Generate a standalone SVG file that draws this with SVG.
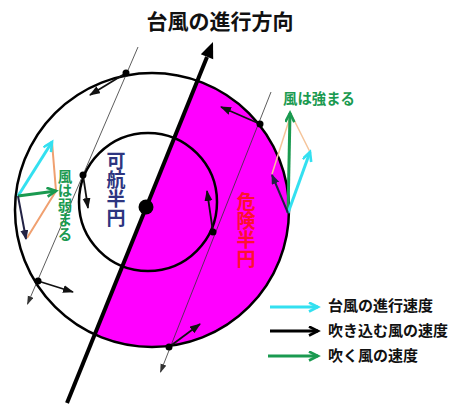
<svg xmlns="http://www.w3.org/2000/svg" width="458" height="406" viewBox="0 0 458 406">
<style>
.cjk{font-family:"Noto Sans CJK JP","Noto Sans CJK SC",sans-serif}
.vert{writing-mode:vertical-rl}
.circ{fill:none;stroke:#000;stroke-width:2.5}
.thin{stroke:#333;stroke-width:0.8;fill:none}
.wind{stroke:#111;stroke-width:1.8;fill:none}
.dot{fill:#000}
.orange{stroke:#f0a070;stroke-width:2;fill:none}
</style>
<defs>
<marker id="mk" markerUnits="userSpaceOnUse" markerWidth="12" markerHeight="10" refX="10" refY="4" orient="auto"><path d="M0,0 L11,4 L0,8 Z" fill="#111"/></marker>
<marker id="mkt" markerUnits="userSpaceOnUse" markerWidth="10" markerHeight="8" refX="8" refY="3" orient="auto"><path d="M0,0 L9,3 L0,6 Z" fill="#333"/></marker>
<marker id="mkc" markerUnits="userSpaceOnUse" markerWidth="14" markerHeight="12" refX="10" refY="5" orient="auto"><path d="M1,0.5 L10,5 L1,9.5" fill="none" stroke="#33e0f0" stroke-width="2.6"/></marker>
<marker id="mkg" markerUnits="userSpaceOnUse" markerWidth="14" markerHeight="12" refX="10" refY="5" orient="auto"><path d="M1,0.5 L10,5 L1,9.5" fill="none" stroke="#1a9a50" stroke-width="2.6"/></marker>
<marker id="mkb" markerUnits="userSpaceOnUse" markerWidth="14" markerHeight="12" refX="10" refY="5" orient="auto"><path d="M1,0.5 L10,5 L1,9.5" fill="none" stroke="#000" stroke-width="2.6"/></marker>
<marker id="mkd" markerUnits="userSpaceOnUse" markerWidth="12" markerHeight="10" refX="9" refY="4" orient="auto"><path d="M0,0 L10,4 L0,8 Z" fill="#222244"/></marker>
</defs>
<rect width="458" height="406" fill="#fff"/>

<g id="title"><text class="cjk" x="220" y="29" font-size="21" font-weight="bold" text-anchor="middle" fill="#111">台風の進行方向</text></g>

<g id="dangerous-half"><path d="M198.4,81.1 A137,137 0 1 1 95,334.6 Z" fill="#ff00ff"/></g>
<g id="outer-circle"><circle class="circ" cx="152" cy="210" r="137"/></g>
<g id="inner-circle"><circle class="circ" cx="148" cy="202" r="69"/></g>

<g id="connectors">
<line class="thin" x1="138" y1="47" x2="27.5" y2="304" marker-end="url(#mkt)"/>
<line class="thin" x1="271" y1="92" x2="160.5" y2="372" marker-end="url(#mkt)"/>
<line x1="67" y1="403" x2="207" y2="57" stroke="#000" stroke-width="4"/>
<polygon points="213,42 213.2,59.3 200.8,54.3" fill="#000"/>
<line class="wind" x1="126" y1="73" x2="90" y2="95" marker-end="url(#mk)"/>
<line class="wind" x1="260" y1="124" x2="221" y2="107" marker-end="url(#mk)"/>
<line class="wind" x1="83" y1="175" x2="88" y2="208" marker-end="url(#mk)"/>
<line class="wind" x1="213" y1="232" x2="207" y2="191" marker-end="url(#mk)"/>
<line class="wind" x1="38" y1="281" x2="73" y2="292" marker-end="url(#mk)"/>
<line class="wind" x1="169" y1="347" x2="200" y2="324" marker-end="url(#mk)"/>

<polyline class="orange" points="52,142 56,191 27,238"/>
<line x1="18" y1="196" x2="52" y2="142" stroke="#33e0f0" stroke-width="3" marker-end="url(#mkc)"/>
<line x1="18" y1="196" x2="56" y2="191" stroke="#1a9a50" stroke-width="3" marker-end="url(#mkg)"/>
<line x1="18" y1="196" x2="26" y2="239" stroke="#222244" stroke-width="2" marker-end="url(#mkd)"/>

<polyline points="310,152 291,114 272,174" fill="none" stroke="#f5c49a" stroke-width="1.5"/>
<line x1="288" y1="213" x2="290" y2="113" stroke="#1a9a50" stroke-width="3" marker-end="url(#mkg)"/>
<line x1="288" y1="213" x2="310" y2="152" stroke="#33e0f0" stroke-width="3" marker-end="url(#mkc)"/>
<line x1="288" y1="213" x2="272" y2="175" stroke="#222244" stroke-width="2" marker-end="url(#mkd)"/>

<line x1="270" y1="307" x2="318" y2="307" stroke="#33e0f0" stroke-width="3" marker-end="url(#mkc)"/>
<line x1="270" y1="331" x2="318" y2="331" stroke="#000" stroke-width="3" marker-end="url(#mkb)"/>
<line x1="268" y1="356" x2="318" y2="356" stroke="#1a9a50" stroke-width="3" marker-end="url(#mkg)"/>
</g>

<g id="points">
<circle class="dot" cx="146" cy="207" r="7.5"/>
<circle class="dot" cx="126" cy="73" r="3.5"/>
<circle class="dot" cx="260" cy="124" r="3.5"/>
<circle class="dot" cx="83" cy="175" r="3.5"/>
<circle class="dot" cx="213" cy="232" r="3.5"/>
<circle class="dot" cx="38" cy="281" r="3.5"/>
<circle class="dot" cx="169" cy="347" r="3.5"/>
</g>

<g id="label-navigable"><text class="cjk vert" x="116" y="151" font-size="19" font-weight="bold" fill="#2d3580">可航半円</text></g>
<g id="label-dangerous"><text class="cjk vert" x="246" y="192" font-size="19" font-weight="bold" fill="#ff1030">危険半円</text></g>
<g id="label-weaker"><text class="cjk vert" x="65" y="169" font-size="14.5" font-weight="bold" fill="#1a9a50">風は弱まる</text></g>
<g id="label-stronger"><text class="cjk" x="283" y="104" font-size="14.4" font-weight="bold" fill="#1a9a50">風は強まる</text></g>

<g id="legend" class="cjk" font-size="15" font-weight="bold" fill="#111">
<text x="328" y="311">台風の進行速度</text>
<text x="328" y="336">吹き込む風の速度</text>
<text x="328" y="361">吹く風の速度</text>
</g>
</svg>
